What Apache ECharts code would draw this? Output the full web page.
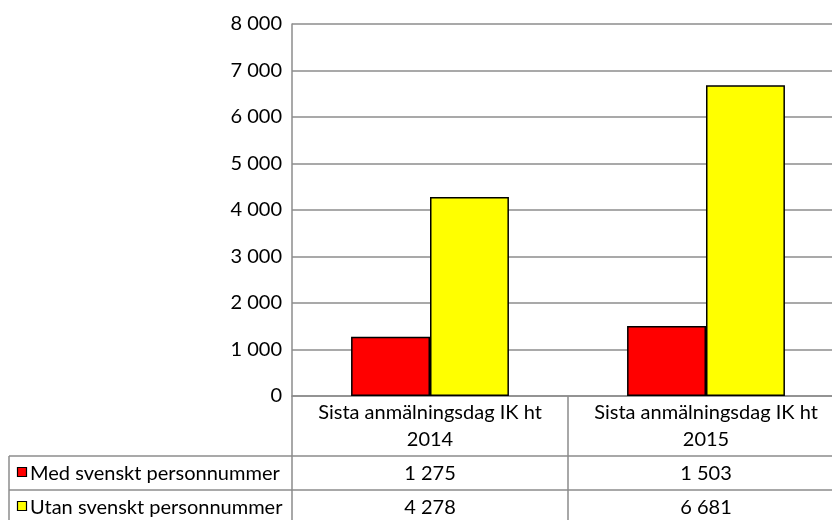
<!DOCTYPE html>
<html>
<head>
<meta charset="utf-8">
<script src="https://cdn.jsdelivr.net/npm/echarts@6/dist/echarts.min.js"></script>
<style>html,body{margin:0;padding:0;background:#fff}#c{width:832px;height:520px}</style>
</head>
<body>
<div id="c"></div>
<script>
const categories = ['Sista anmälningsdag IK ht 2014', 'Sista anmälningsdag IK ht 2015'];
const seriesNames = ['Med svenskt personnummer', 'Utan svenskt personnummer'];
const seriesColors = ['#ff0000', '#ffff00'];
const medValues = [1275, 1503];
const utanValues = [4278, 6681];
const yTicks = [0, 1000, 2000, 3000, 4000, 5000, 6000, 7000, 8000];

const FONT = 'Lato';
const FS = 20;
const LINE = '#8c8c8c';
const fmt = v => String(v).replace(/\B(?=(\d{3})+(?!\d))/g, ' ');

const chart = echarts.init(document.getElementById('c'), null, {renderer: 'canvas'});

const legendGraphics = [];
const rowLines = [456, 490];
seriesNames.forEach((name, i) => {
  const top = rowLines[i];
  legendGraphics.push({
    type: 'rect', shape: {x: 17.5, y: top + 11.5, width: 9, height: 9},
    style: {fill: seriesColors[i], stroke: '#000', lineWidth: 1.2}
  });
  legendGraphics.push({
    type: 'text', x: 30, y: top + 18,
    style: {text: name, font: FS + 'px ' + FONT, fill: '#000', verticalAlign: 'middle'}
  });
});

const option = {
  animation: false,
  textStyle: {fontFamily: FONT, fontSize: FS, color: '#000'},
  grid: {left: 292, width: 552, top: 24, height: 372, containLabel: false, outerBoundsMode: 'none'},
  xAxis: [
    {
      type: 'category', data: categories, gridIndex: 0, position: 'bottom',
      axisLine: {show: true, lineStyle: {color: LINE, width: 1.5}},
      axisTick: {show: true, interval: 0, length: 124, lineStyle: {color: LINE, width: 1.5}},
      axisLabel: {
        interval: 0, margin: 3, fontFamily: FONT, fontSize: FS, color: '#000', lineHeight: 27, align: 'center',
        formatter: s => s.replace(/ (\d+)$/, '\n$1')
      }
    },
    {
      type: 'category', data: medValues.map(fmt), gridIndex: 0, position: 'bottom', offset: 60,
      axisLine: {show: true, lineStyle: {color: LINE, width: 1.5}},
      axisTick: {show: false},
      axisLabel: {interval: 0, margin: 8, fontFamily: FONT, fontSize: FS, color: '#000', lineHeight: 20}
    },
    {
      type: 'category', data: utanValues.map(fmt), gridIndex: 0, position: 'bottom', offset: 94,
      axisLine: {show: true, lineStyle: {color: LINE, width: 1.5}},
      axisTick: {show: false},
      axisLabel: {interval: 0, margin: 8, fontFamily: FONT, fontSize: FS, color: '#000', lineHeight: 20}
    }
  ],
  yAxis: {
    type: 'value', min: yTicks[0], max: yTicks[yTicks.length - 1], interval: yTicks[1] - yTicks[0],
    axisLine: {show: true, lineStyle: {color: LINE, width: 1.5}},
    axisTick: {show: false},
    splitLine: {show: true, lineStyle: {color: LINE, width: 1.5}},
    axisLabel: {margin: 10, fontFamily: FONT, fontSize: FS, color: '#000', formatter: fmt}
  },
  series: [
    {
      name: seriesNames[0], type: 'bar', data: medValues, barGap: '0%', barCategoryGap: '42.8%',
      itemStyle: {color: seriesColors[0], borderColor: '#000', borderWidth: 1.5}
    },
    {
      name: seriesNames[1], type: 'bar', data: utanValues, barGap: '0%', barCategoryGap: '42.8%',
      itemStyle: {color: seriesColors[1], borderColor: '#000', borderWidth: 1.5}
    }
  ],
  graphic: [
    {type: 'line', shape: {x1: 9, y1: 456, x2: 292, y2: 456}, style: {stroke: LINE, lineWidth: 1.5}},
    {type: 'line', shape: {x1: 9, y1: 490, x2: 292, y2: 490}, style: {stroke: LINE, lineWidth: 1.5}},
    {type: 'line', shape: {x1: 9, y1: 456, x2: 9, y2: 520}, style: {stroke: LINE, lineWidth: 1.5}}
  ].concat(legendGraphics)
};
chart.setOption(option);
</script>
</body>
</html>
